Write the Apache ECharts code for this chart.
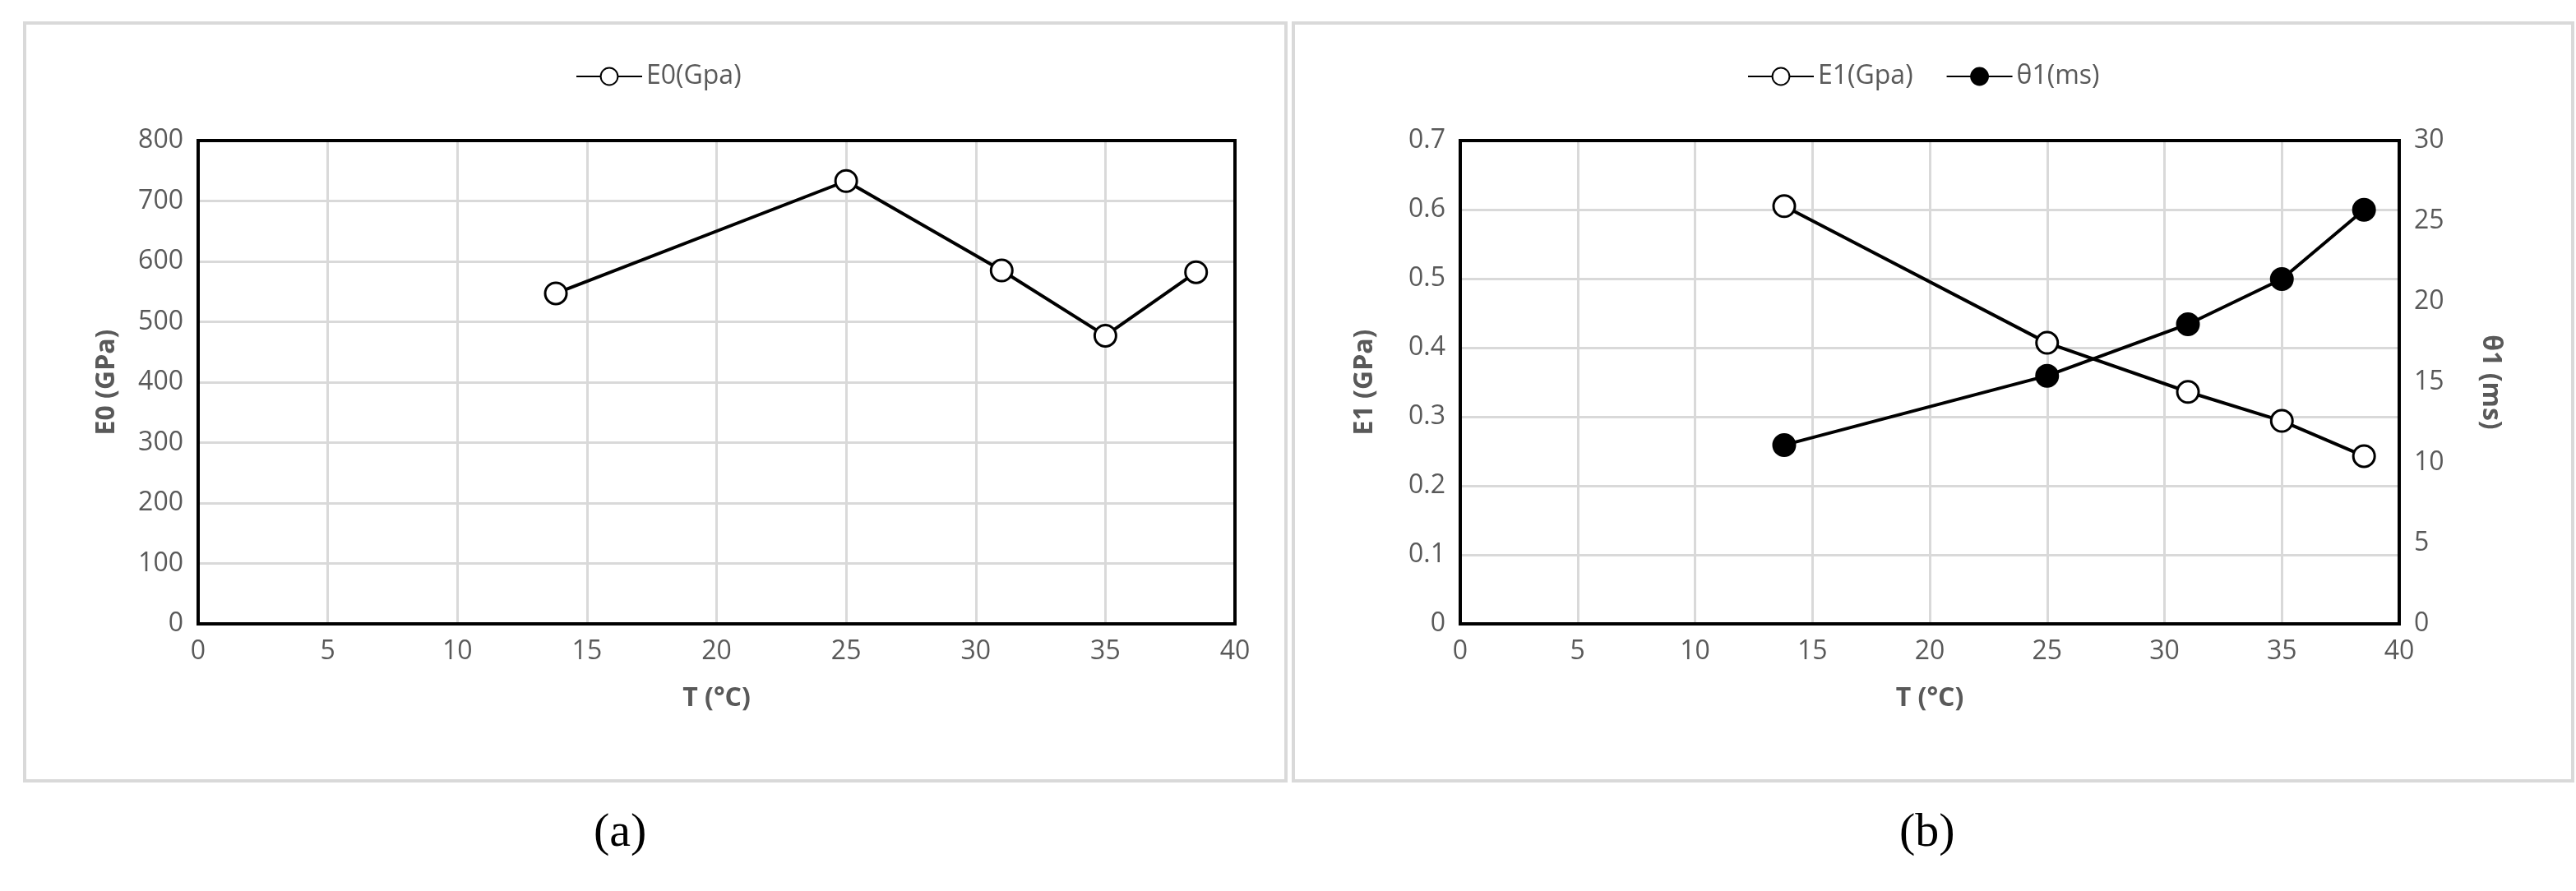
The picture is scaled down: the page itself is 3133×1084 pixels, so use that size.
<!DOCTYPE html>
<html><head><meta charset="utf-8">
<script src="https://cdn.jsdelivr.net/npm/echarts@6/dist/echarts.min.js"></script>
<style>html,body{margin:0;padding:0;background:#fff}#c{width:3133px;height:1084px}</style>
</head><body><div id="c"></div>
<script>
const temps = [13.8, 25, 31, 35, 38.5];
const e0 = [547, 733, 585, 477, 582];
const e1 = [0.605, 0.407, 0.336, 0.294, 0.243];
const theta1 = [11.1, 15.4, 18.6, 21.4, 25.7];
const FONT = "'Liberation Sans Narrow','Open Sans',sans-serif";
const G = '#595959';
const pts = v => temps.map((t, i) => [t, v[i]]);
const ch = echarts.init(document.getElementById('c'));
const lbl = {color: G, fontSize: 32, fontFamily: FONT, margin: 18};
const split = {show: true, lineStyle: {color: '#d9d9d9', width: 3}};
const nameStyle = {color: G, fontSize: 32, fontWeight: 'bold', fontFamily: FONT};
const blk = {show: true, lineStyle: {color: '#000', width: 4}};
const xa = (gi) => ({type: 'value', gridIndex: gi, min: 0, max: 40, interval: 5,
  axisLine: blk, axisTick: {show: false}, axisLabel: lbl, splitLine: split,
  name: 'T (°C)', nameLocation: 'middle', nameGap: 75, nameTextStyle: nameStyle});
const line = (name, xi, yi, data, fill) => ({name, type: 'line', xAxisIndex: xi, yAxisIndex: yi, data,
  symbol: 'circle', symbolSize: 26, lineStyle: {color: '#000', width: 4},
  itemStyle: {color: fill, borderColor: '#000', borderWidth: 3}, z: 5});
ch.setOption({
  animation: false,
  graphic: [
    {type: 'rect', shape: {x: 30, y: 28, width: 1534, height: 922}, style: {fill: 'none', stroke: '#d9d9d9', lineWidth: 4}},
    {type: 'rect', shape: {x: 1573, y: 28, width: 1556, height: 922}, style: {fill: 'none', stroke: '#d9d9d9', lineWidth: 4}},
    {type: 'text', left: 722, top: 985, style: {text: '(a)', font: '58px "Liberation Serif"', fill: '#000'}},
    {type: 'text', left: 2310, top: 985, style: {text: '(b)', font: '58px "Liberation Serif"', fill: '#000'}}
  ],
  legend: [
    {data: ['E0(Gpa)'], left: 695, top: 72, itemWidth: 80, itemHeight: 26, textStyle: {color: G, fontSize: 32, fontFamily: FONT}},
    {data: ['E1(Gpa)', 'θ1(ms)'], left: 2120, top: 72, itemWidth: 80, itemHeight: 26, itemGap: 40, textStyle: {color: G, fontSize: 32, fontFamily: FONT}}
  ],
  grid: [
    {left: 241, top: 171, width: 1261, height: 588, show: true, borderColor: '#000', borderWidth: 4, z: 10},
    {left: 1776, top: 171, width: 1142, height: 588, show: true, borderColor: '#000', borderWidth: 4, z: 10}
  ],
  xAxis: [xa(0), xa(1),
    {type: 'value', gridIndex: 0, position: 'top', min: 0, max: 40, axisLine: blk, axisTick: {show: false}, axisLabel: {show: false}, splitLine: {show: false}},
    {type: 'value', gridIndex: 1, position: 'top', min: 0, max: 40, axisLine: blk, axisTick: {show: false}, axisLabel: {show: false}, splitLine: {show: false}}],
  yAxis: [
    {type: 'value', gridIndex: 0, min: 0, max: 800, interval: 100, axisLine: blk, axisTick: {show: false},
     axisLabel: lbl, splitLine: split, name: 'E0 (GPa)', nameLocation: 'middle', nameGap: 95, nameTextStyle: nameStyle},
    {type: 'value', gridIndex: 1, min: 0, max: 0.7, interval: 0.1, axisLine: blk, axisTick: {show: false},
     axisLabel: lbl, splitLine: split, name: 'E1 (GPa)', nameLocation: 'middle', nameGap: 100, nameTextStyle: nameStyle},
    {type: 'value', gridIndex: 1, position: 'right', min: 0, max: 30, interval: 5, axisLine: blk, axisTick: {show: false},
     axisLabel: lbl, splitLine: {show: false}, name: 'θ1 (ms)', nameLocation: 'middle', nameGap: 95, nameRotate: -90, nameTextStyle: nameStyle},
    {type: 'value', gridIndex: 0, position: 'right', min: 0, max: 800, axisLine: blk, axisTick: {show: false}, axisLabel: {show: false}, splitLine: {show: false}}
  ],
  series: [
    line('E0(Gpa)', 0, 0, pts(e0), '#fff'),
    line('E1(Gpa)', 1, 1, pts(e1), '#fff'),
    line('θ1(ms)', 1, 2, pts(theta1), '#000')
  ]
});
</script></body></html>
